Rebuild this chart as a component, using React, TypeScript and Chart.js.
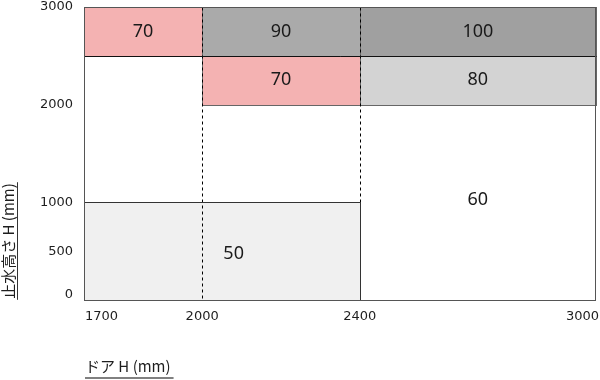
import React, { useEffect, useRef } from "react";
import { Chart, registerables } from "chart.js";

Chart.register(...registerables);

// Axis ticks (mm)
const xTicks = [1700, 2000, 2400, 3000];
const yTicks = [0, 500, 1000, 2000, 3000];

// Cells: door height range (x) × water-stop height range (y) → value
const cellX0 = [1700, 2000, 2400, 2000, 2400, 1700, 2400];
const cellX1 = [2000, 2400, 3000, 2400, 3000, 2400, 3000];
const cellY0 = [2500, 2500, 2500, 2000, 2000, 0, 0];
const cellY1 = [3000, 3000, 3000, 2500, 2500, 1000, 2000];
const cellValues = [70, 90, 100, 70, 80, 50, 60];
// label anchor of each value (mm)
const labelX = [1850, 2200, 2700, 2200, 2700, 2080, 2700];
const labelY = [2750, 2750, 2750, 2250, 2250, 470, 1030];

const dashedX = [2000, 2400];

const xTitle = "ドア H (mm)";
const yTitle = "止水高さ H (mm)";

const cellColors = ["#f4b2b2", "#aaaaaa", "#a0a0a0", "#f4b2b2", "#d3d3d3", "#f0f0f0", "#ffffff"];

const cellPlugin = {
  id: "cells",
  beforeDatasetsDraw(chart: any) {
    const { ctx, chartArea, scales } = chart;
    const xs = scales.x;
    const ys = scales.y;
    const { left, right, top, bottom } = chartArea;
    const cx = (v: number) => Math.round(xs.getPixelForValue(v)) + 0.5;
    const cy = (v: number) => Math.round(ys.getPixelForValue(v)) + 0.5;
    ctx.save();
    for (let i = 0; i < cellValues.length; i++) {
      const x0 = cx(cellX0[i]);
      const x1 = cx(cellX1[i]);
      const y0 = cy(cellY0[i]);
      const y1 = cy(cellY1[i]);
      ctx.fillStyle = cellColors[i];
      ctx.fillRect(x0, y1, x1 - x0, y0 - y1);
    }
    ctx.lineWidth = 1;
    ctx.strokeStyle = "#666666";
    for (let i = 0; i < cellValues.length; i++) {
      if (cellColors[i] === "#ffffff") continue;
      const x0 = cx(cellX0[i]);
      const x1 = cx(cellX1[i]);
      const y0 = cy(cellY0[i]);
      const y1 = cy(cellY1[i]);
      ctx.strokeRect(x0, y1, x1 - x0, y0 - y1);
    }
    ctx.strokeStyle = "#000000";
    ctx.setLineDash([3, 3]);
    dashedX.forEach((v, i) => {
      const px = cx(v);
      ctx.beginPath();
      ctx.moveTo(px, Math.round(top) + 0.5);
      ctx.lineTo(px, i === 0 ? Math.round(bottom) + 0.5 : cy(1000));
      ctx.stroke();
    });
    ctx.setLineDash([]);
    ctx.strokeStyle = "#111111";
    ctx.beginPath();
    ctx.moveTo(Math.round(left) + 0.5, cy(2500));
    ctx.lineTo(Math.round(right) + 0.5, cy(2500));
    ctx.stroke();
    ctx.strokeStyle = "#333333";
    ctx.beginPath();
    ctx.moveTo(Math.round(left) + 0.5, cy(1000));
    ctx.lineTo(cx(2400), cy(1000));
    ctx.moveTo(cx(2400), cy(1000));
    ctx.lineTo(cx(2400), Math.round(bottom) + 0.5);
    ctx.stroke();
    ctx.strokeStyle = "#555555";
    ctx.strokeRect(Math.round(left) + 0.5, Math.round(top) + 0.5, Math.round(right - left) - 1, Math.round(bottom - top));
    ctx.restore();
  },
  afterDatasetsDraw(chart: any) {
    const { ctx } = chart;
    const meta = chart.getDatasetMeta(0);
    ctx.save();
    ctx.fillStyle = "#1a1a1a";
    ctx.font = '18px "Noto Sans"';
    ctx.textAlign = "center";
    ctx.textBaseline = "middle";
    meta.data.forEach((el: any, i: number) => {
      ctx.fillText(String(cellValues[i]), el.x, el.y);
    });
    ctx.restore();
  },
  afterDraw(chart: any) {
    const { ctx, chartArea, scales } = chart;
    const xs = scales.x;
    const ys = scales.y;
    const { left, top, bottom } = chartArea;
    ctx.save();
    ctx.fillStyle = "#1e1e1e";
    ctx.font = '13px "DejaVu Sans"';
    ctx.textAlign = "right";
    ctx.textBaseline = "middle";
    yTicks.forEach((v) => {
      const py = Math.min(Math.max(ys.getPixelForValue(v), top - 1), bottom - 5);
      ctx.fillText(String(v), left - 11, py);
    });
    ctx.textBaseline = "middle";
    xTicks.forEach((v, i) => {
      ctx.textAlign = i === 0 ? "left" : i === xTicks.length - 1 ? "right" : "center";
      const px = xs.getPixelForValue(v) + (i === 0 ? 1 : i === xTicks.length - 1 ? 3 : 0);
      ctx.fillText(String(v), px, bottom + 17);
    });
    // x title
    ctx.font = '15px "Noto Sans CJK JP"';
    ctx.textAlign = "left";
    ctx.textBaseline = "alphabetic";
    ctx.fillText(xTitle, left + 1, 372);
    const w = ctx.measureText(xTitle).width;
    ctx.fillStyle = "#808080";
    ctx.fillRect(left + 1, 377, w + 3, 2);
    // y title
    ctx.fillStyle = "#1e1e1e";
    ctx.translate(8, 241);
    ctx.rotate(-Math.PI / 2);
    ctx.textAlign = "center";
    ctx.textBaseline = "middle";
    ctx.fillText(yTitle, 0, 0);
    const wy = ctx.measureText(yTitle).width;
    ctx.fillStyle = "#333333";
    ctx.fillRect(-wy / 2 - 1, 9, wy + 2, 1);
    ctx.restore();
  },
};

export default function App() {
  const ref = useRef<HTMLCanvasElement | null>(null);
  useEffect(() => {
    document.body.style.margin = "0";
    const canvas = ref.current;
    if (!canvas) return;
    const chart = new Chart(canvas, {
      type: "scatter",
      data: {
        datasets: [
          {
            data: labelX.map((x, i) => ({ x, y: labelY[i] })),
            pointRadius: 0,
            showLine: false,
          },
        ],
      },
      options: {
        animation: false,
        responsive: false,
        devicePixelRatio: 1,
        layout: { padding: { left: 84, top: 7, right: 4, bottom: 80 } },
        scales: {
          x: { type: "linear", min: 1700, max: 3000, display: false },
          y: { type: "linear", min: 0, max: 3000, display: false },
        },
        plugins: { legend: { display: false }, tooltip: { enabled: false } },
        events: [],
      },
      plugins: [cellPlugin],
    });
    return () => chart.destroy();
  }, []);
  return (
    <div style={{ width: 600, height: 380, background: "#ffffff" }}>
      <canvas ref={ref} width={600} height={380} style={{ width: 600, height: 380, display: "block" }} />
    </div>
  );
}
